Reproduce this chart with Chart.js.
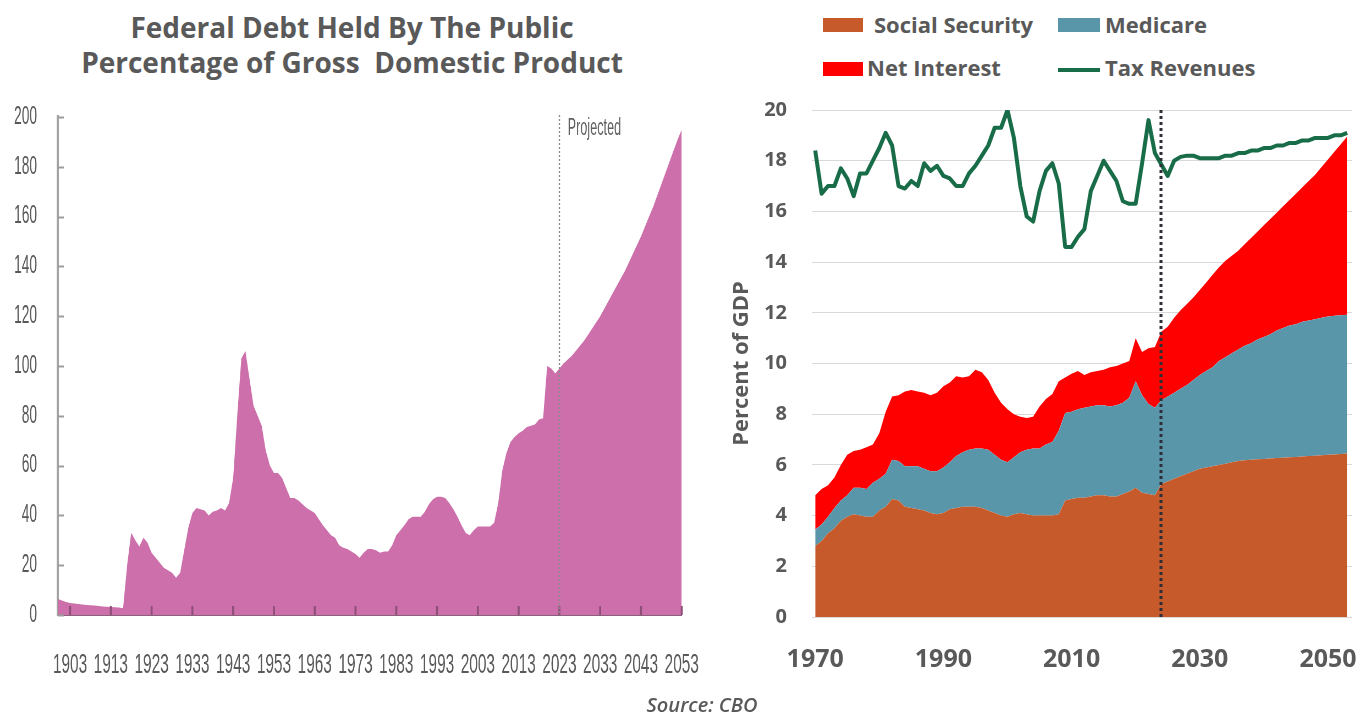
<!DOCTYPE html>
<html>
<head>
<meta charset="utf-8">
<script src="https://cdn.jsdelivr.net/npm/chart.js@4.4.0/dist/chart.umd.min.js"></script>
<style>
  html, body { margin:0; padding:0; background:#fff; width:1372px; height:715px; overflow:hidden; position:relative; }
  #leftWrap { position:absolute; left:0; top:100px; width:1275px; height:590px; transform:scaleX(0.55); transform-origin:0 0; }
  #rightWrap { position:absolute; left:700px; top:90px; width:672px; height:610px; }
  .ttl { position:absolute; left:0; width:704px; text-align:center; font:700 28px/34.5px 'Open Sans', sans-serif; color:#595959; white-space:pre; }
  .lgbox { position:absolute; }
  .lgtxt { position:absolute; font:700 22px/30px 'Open Sans', sans-serif; color:#595959; white-space:pre; }
  #source { position:absolute; left:0; width:1404px; top:695px; text-align:center; font:italic 600 20px/20px 'Open Sans', sans-serif; color:#595959; }
</style>
</head>
<body>
<div class="ttl" style="top:10px">Federal Debt Held By The Public</div>
<div class="ttl" style="top:44.5px">Percentage of Gross  Domestic Product</div>
<div id="leftWrap"><canvas id="leftChart" width="1275" height="590"></canvas></div>
<div id="rightWrap"><canvas id="rightChart" width="672" height="610"></canvas></div>
<div id="legend"></div>
<div id="source">Source: CBO</div>
<script>
// ---------- Left chart: Federal debt held by the public (% of GDP) ----------
const debtStartYear = 1900;
const debtValues = [
  6.4, 5.8, 5.2, 4.8, 4.6, 4.4, 4.2, 4.0, 3.9, 3.8,          // 1900s
  3.6, 3.4, 3.3, 3.2, 3.1, 3.0, 2.7, 20, 33, 30,             // 1910s
  27.5, 31, 29, 25, 23, 21, 19, 18, 17, 15,                   // 1920s
  17, 26, 35, 41, 43, 42.5, 42, 40, 41.5, 42,                 // 1930s
  43, 42, 45, 55, 80, 103, 106, 95, 84, 80,                   // 1940s
  76, 66, 60, 57, 57, 55, 51, 47, 47, 46,                     // 1950s
  44.5, 43, 42, 41, 38.5, 36, 34, 32, 31, 28,                 // 1960s
  27, 26.5, 25.5, 24.5, 23, 25, 26.5, 26.5, 26, 25,           // 1970s
  25.5, 25.5, 28, 32, 34, 36, 38.5, 39.5, 39.5, 39.5,         // 1980s
  41.5, 44.5, 46.5, 47.5, 47.5, 47, 45, 42.5, 39.5, 36,       // 1990s
  33, 32, 34, 35.5, 35.5, 35.5, 35.5, 37, 45, 58,             // 2000s
  65, 69.5, 71.5, 73, 74, 75.5, 76, 76.5, 78.5, 79,           // 2010s
  100, 99, 97, 99, 101, 102.5, 104, 106, 108, 110,            // 2020s
  112.5, 115, 117.5, 120, 123, 126, 129, 132, 135, 138,       // 2030s
  141.5, 145, 148.5, 152, 156, 160, 164, 168.5, 173, 177.5,   // 2040s
  182, 186.5, 191, 195                                        // 2050-2053
];
const leftXTicks = [1903, 1913, 1923, 1933, 1943, 1953, 1963, 1973, 1983, 1993, 2003, 2013, 2023, 2033, 2043, 2053];
const leftYTicks = [0, 20, 40, 60, 80, 100, 120, 140, 160, 180, 200];
const leftProjectionYear = 2023;
const leftProjectionLabel = 'Projected';

// ---------- Right chart: spending components and revenues (% of GDP) ----------
const rightStartYear = 1970;
const seriesNames = ['Social Security', 'Medicare', 'Net Interest', 'Tax Revenues'];
const socialSecurity = [
  2.8, 3.0, 3.3, 3.5, 3.8, 3.95, 4.05, 4.0, 3.95, 3.95,
  4.2, 4.35, 4.65, 4.6, 4.35, 4.3, 4.25, 4.2, 4.1, 4.05,
  4.1, 4.25, 4.3, 4.35, 4.35, 4.35, 4.3, 4.2, 4.1, 4.0,
  3.95, 4.05, 4.1, 4.05, 4.0, 4.0, 4.0, 4.0, 4.05, 4.6,
  4.65, 4.7, 4.7, 4.75, 4.8, 4.8, 4.75, 4.75, 4.85, 4.95,
  5.1, 4.9, 4.85, 4.8, 5.25, 5.35, 5.45, 5.55, 5.65, 5.75,
  5.85, 5.9, 5.95, 6.0, 6.05, 6.1, 6.15, 6.18, 6.2, 6.22,
  6.23, 6.25, 6.27, 6.28, 6.3, 6.31, 6.33, 6.35, 6.36, 6.38,
  6.4, 6.41, 6.43, 6.45
];
const medicare = [
  0.65, 0.65, 0.65, 0.8, 0.8, 0.85, 1.05, 1.1, 1.1, 1.35,
  1.25, 1.3, 1.55, 1.55, 1.6, 1.65, 1.7, 1.65, 1.65, 1.7,
  1.8, 1.85, 2.05, 2.15, 2.25, 2.3, 2.35, 2.4, 2.3, 2.2,
  2.15, 2.25, 2.4, 2.55, 2.65, 2.65, 2.8, 2.9, 3.3, 3.45,
  3.45, 3.5, 3.55, 3.55, 3.55, 3.55, 3.55, 3.6, 3.6, 3.7,
  4.2, 3.85, 3.55, 3.45, 3.3, 3.35, 3.4, 3.45, 3.5, 3.6,
  3.7, 3.8, 3.9, 4.1, 4.2, 4.3, 4.4, 4.52, 4.6, 4.73,
  4.82, 4.9, 5.03, 5.12, 5.2, 5.24, 5.32, 5.35, 5.39, 5.42,
  5.45, 5.47, 5.47, 5.47
];
const netInterest = [
  1.35, 1.4, 1.25, 1.2, 1.4, 1.6, 1.45, 1.5, 1.65, 1.5,
  1.8, 2.45, 2.5, 2.6, 2.95, 3.0, 2.95, 3.0, 3.0, 3.1,
  3.2, 3.15, 3.15, 2.95, 2.9, 3.1, 3.0, 2.75, 2.45, 2.25,
  2.1, 1.7, 1.4, 1.25, 1.25, 1.65, 1.8, 1.9, 1.95, 1.4,
  1.5, 1.5, 1.3, 1.35, 1.35, 1.4, 1.55, 1.55, 1.55, 1.45,
  1.7, 1.7, 2.2, 2.4, 2.7, 2.75, 2.95, 3.1, 3.2, 3.25,
  3.35, 3.5, 3.65, 3.7, 3.8, 3.85, 3.9, 4.0, 4.15, 4.25,
  4.4, 4.55, 4.65, 4.8, 4.95, 5.15, 5.3, 5.5, 5.7, 5.95,
  6.2, 6.47, 6.75, 7.03
];
const taxRevenues = [
  18.4, 16.7, 17.0, 17.0, 17.7, 17.3, 16.6, 17.5, 17.5, 18.0,
  18.5, 19.1, 18.6, 17.0, 16.9, 17.2, 17.0, 17.9, 17.6, 17.8,
  17.4, 17.3, 17.0, 17.0, 17.5, 17.8, 18.2, 18.6, 19.3, 19.3,
  20.0, 18.9, 17.0, 15.8, 15.6, 16.8, 17.6, 17.9, 17.1, 14.6,
  14.6, 15.0, 15.3, 16.8, 17.4, 18.0, 17.6, 17.2, 16.4, 16.3,
  16.3, 17.9, 19.6, 18.3, 17.85, 17.4, 18.0, 18.15, 18.2, 18.2,
  18.1, 18.1, 18.1, 18.1, 18.2, 18.2, 18.3, 18.3, 18.4, 18.4,
  18.5, 18.5, 18.6, 18.6, 18.7, 18.7, 18.8, 18.8, 18.9, 18.9,
  18.9, 19.0, 19.0, 19.1
];
const rightXTicks = [1970, 1990, 2010, 2030, 2050];
const rightYTicks = [0, 2, 4, 6, 8, 10, 12, 14, 16, 18, 20];
const rightProjectionYear = 2024;
const rightYTitle = 'Percent of GDP';

const seriesColors = ['#C65A2A', '#5A96AA', '#FF0000', '#186C48'];
const TEXT = '#595959';

// ---------- helpers ----------
const toPoints = (start, arr) => arr.map((v, i) => ({ x: start + i, y: v }));
const fixedTicks = list => scale => { scale.ticks = list.map(v => ({ value: v })); };
const fitX = h => s => { s.height = h; s.paddingLeft = 0; s.paddingRight = 0; s.paddingTop = 0; s.paddingBottom = 0; };
const fitY = w => s => { s.width = w; s.paddingLeft = 0; s.paddingRight = 0; s.paddingTop = 0; s.paddingBottom = 0; };

// ---------- Left chart ----------
const leftDecor = {
  id: 'leftDecor',
  afterDatasetsDraw(chart) {
    const { ctx, scales: { x, y }, chartArea } = chart;
    ctx.save();
    ctx.strokeStyle = '#9C9C9C';
    ctx.lineWidth = 2;
    leftYTicks.forEach(v => {
      const py = Math.round(y.getPixelForValue(v)) + 0.5;
      ctx.beginPath(); ctx.moveTo(chartArea.left, py); ctx.lineTo(chartArea.left + 11, py); ctx.stroke();
    });
    ctx.strokeStyle = '#8E4E78';
    ctx.lineWidth = 3.6;
    leftXTicks.forEach(v => {
      const px = x.getPixelForValue(v);
      ctx.beginPath(); ctx.moveTo(px, chartArea.bottom); ctx.lineTo(px, chartArea.bottom - 9); ctx.stroke();
    });
    const px = x.getPixelForValue(leftProjectionYear);
    ctx.strokeStyle = '#8C8C8C';
    ctx.lineWidth = 2.5;
    ctx.setLineDash([2, 2]);
    ctx.beginPath(); ctx.moveTo(px, chartArea.top - 2); ctx.lineTo(px, chartArea.bottom); ctx.stroke();
    ctx.setLineDash([]);
    ctx.fillStyle = '#606060';
    ctx.font = '23px "Liberation Sans", Arial, sans-serif';
    ctx.textBaseline = 'middle';
    ctx.textAlign = 'left';
    ctx.fillText(leftProjectionLabel, px + 15, y.getPixelForValue(195.5));
    ctx.restore();
  }
};

new Chart(document.getElementById('leftChart'), {
  type: 'line',
  data: {
    datasets: [{
      label: 'Federal debt held by the public',
      data: toPoints(debtStartYear, debtValues),
      borderWidth: 0,
      borderColor: 'rgba(0,0,0,0)',
      backgroundColor: '#CC6FAA',
      fill: 'origin',
      pointRadius: 0,
      tension: 0
    }]
  },
  options: {
    responsive: false,
    animation: false,
    devicePixelRatio: 1,
    layout: { padding: { top: 17, right: 35.5, left: 0, bottom: 0 } },
    plugins: { legend: { display: false }, tooltip: { enabled: false } },
    scales: {
      x: {
        type: 'linear', min: 1900, max: 2053, z: 1,
        afterBuildTicks: fixedTicks(leftXTicks),
        afterFit: fitX(75),
        grid: { display: true, drawOnChartArea: false, drawTicks: false },
        border: { display: true, color: '#8C5F7E', width: 2 },
        ticks: {
          autoSkip: false, maxRotation: 0, minRotation: 0, padding: 33,
          color: TEXT, font: { family: '"Liberation Sans", Arial, sans-serif', size: 28 },
          callback: v => String(v)
        }
      },
      y: {
        type: 'linear', min: 0, max: 200, z: 1,
        afterBuildTicks: fixedTicks(leftYTicks),
        afterFit: fitY(105.1),
        grid: { display: true, drawOnChartArea: false, drawTicks: false },
        border: { display: true, color: '#A3A3A3', width: 4 },
        ticks: {
          padding: 37.8, color: TEXT,
          font: { family: '"Liberation Sans", Arial, sans-serif', size: 25 },
          callback: v => String(v)
        }
      }
    }
  },
  plugins: [leftDecor]
});

// ---------- Right chart ----------
const rightDecor = {
  id: 'rightDecor',
  afterDatasetsDraw(chart) {
    const { ctx, scales: { x }, chartArea } = chart;
    const px = Math.round(x.getPixelForValue(rightProjectionYear));
    ctx.save();
    ctx.strokeStyle = '#2E2E38';
    ctx.lineWidth = 3;
    ctx.setLineDash([3, 3]);
    ctx.beginPath(); ctx.moveTo(px, chartArea.top); ctx.lineTo(px, chartArea.bottom); ctx.stroke();
    ctx.restore();
  }
};

const areaDs = (name, arr, color, fill) => ({
  label: name,
  data: toPoints(rightStartYear, arr),
  backgroundColor: color,
  borderColor: color,
  borderWidth: 0,
  fill: fill,
  pointRadius: 0,
  tension: 0,
  stack: 'spending',
  order: 1
});

new Chart(document.getElementById('rightChart'), {
  type: 'line',
  data: {
    datasets: [
      areaDs(seriesNames[0], socialSecurity, seriesColors[0], 'origin'),
      areaDs(seriesNames[1], medicare, seriesColors[1], '-1'),
      areaDs(seriesNames[2], netInterest, seriesColors[2], '-1'),
      {
        label: seriesNames[3],
        data: toPoints(rightStartYear, taxRevenues),
        borderColor: seriesColors[3],
        backgroundColor: seriesColors[3],
        borderWidth: 4,
        borderJoinStyle: 'round',
        fill: false,
        pointRadius: 0,
        tension: 0,
        stack: 'revenue',
        order: 0
      }
    ]
  },
  options: {
    responsive: false,
    animation: false,
    devicePixelRatio: 1,
    layout: { padding: { top: 20, right: 20, left: 0, bottom: 0 } },
    plugins: { legend: { display: false }, tooltip: { enabled: false } },
    scales: {
      x: {
        type: 'linear', min: 1969.5, max: 2053.75,
        afterBuildTicks: fixedTicks(rightXTicks),
        afterFit: fitX(83),
        grid: { display: false, drawTicks: false },
        border: { display: false },
        ticks: {
          autoSkip: false, maxRotation: 0, minRotation: 0, padding: 28,
          color: TEXT, font: { family: '"Open Sans", sans-serif', size: 25, weight: 'bold' },
          callback: v => String(v)
        }
      },
      y: {
        type: 'linear', min: 0, max: 20, stacked: true,
        afterBuildTicks: fixedTicks(rightYTicks),
        afterFit: fitY(112),
        grid: { color: '#D9D9D9', lineWidth: 1, drawTicks: false },
        border: { display: false },
        ticks: {
          padding: 25, color: TEXT,
          font: { family: '"Open Sans", sans-serif', size: 20, weight: 'bold' },
          callback: v => String(v)
        },
        title: {
          display: true, text: rightYTitle, color: TEXT,
          font: { family: '"Open Sans", sans-serif', size: 22, weight: 'bold' },
          padding: { top: 28.8, bottom: 0 }
        }
      }
    }
  },
  plugins: [rightDecor]
});

// ---------- Right legend (HTML) ----------
const legendItems = [
  { name: seriesNames[0], color: seriesColors[0], box: [823, 18, 40, 14], text: [874, 8.5] },
  { name: seriesNames[1], color: seriesColors[1], box: [1058, 18, 42, 14], text: [1105, 8.5] },
  { name: seriesNames[2], color: seriesColors[2], box: [823, 62, 40, 14], text: [867, 52] },
  { name: seriesNames[3], color: seriesColors[3], box: [1058, 68, 42, 4], text: [1105, 52] }
];
const legendEl = document.getElementById('legend');
legendItems.forEach(it => {
  const b = document.createElement('div');
  b.className = 'lgbox';
  b.style.left = it.box[0] + 'px'; b.style.top = it.box[1] + 'px';
  b.style.width = it.box[2] + 'px'; b.style.height = it.box[3] + 'px';
  b.style.background = it.color;
  legendEl.appendChild(b);
  const t = document.createElement('span');
  t.className = 'lgtxt';
  t.style.left = it.text[0] + 'px'; t.style.top = it.text[1] + 'px';
  t.textContent = it.name;
  legendEl.appendChild(t);
});
</script>
</body>
</html>
